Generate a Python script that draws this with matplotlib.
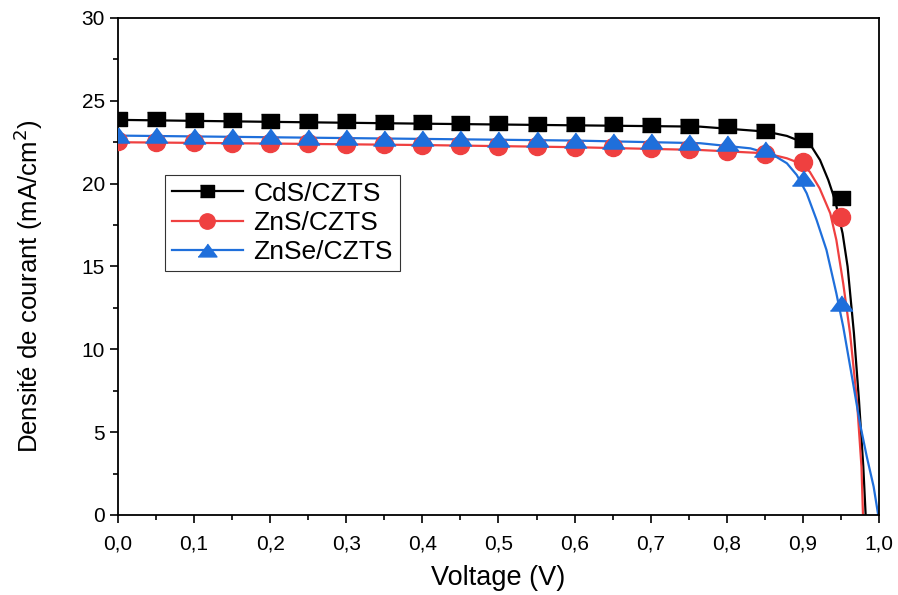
import numpy as np
import matplotlib.pyplot as plt
from matplotlib.lines import Line2D
from matplotlib.ticker import MultipleLocator, FuncFormatter

plt.rcParams['font.family'] = ['Liberation Sans', 'DejaVu Sans']

# points mesurés (marqueurs)
v_pts = [0.00, 0.05, 0.10, 0.15, 0.20, 0.25, 0.30, 0.35, 0.40, 0.45,
         0.50, 0.55, 0.60, 0.65, 0.70, 0.75, 0.80, 0.85, 0.90, 0.95]
j_cds = [23.90, 23.88, 23.86, 23.83, 23.81, 23.78, 23.76, 23.73, 23.70, 23.68,
         23.65, 23.62, 23.60, 23.57, 23.54, 23.50, 23.45, 23.20, 22.63, 19.15]
j_zns = [22.55, 22.53, 22.50, 22.48, 22.46, 22.43, 22.41, 22.38, 22.36, 22.33,
         22.30, 22.27, 22.24, 22.20, 22.16, 22.12, 22.00, 21.80, 21.28, 18.00]
j_znse = [22.95, 22.93, 22.90, 22.88, 22.86, 22.83, 22.81, 22.78, 22.76, 22.73,
          22.70, 22.67, 22.64, 22.60, 22.56, 22.50, 22.45, 22.08, 20.35, 12.78]

# courbes simulées
v_cds_fit = [0.0, 0.2, 0.4, 0.6, 0.765, 0.852, 0.879, 0.898, 0.9115, 0.9225,
             0.9334, 0.9422, 0.9522, 0.9588, 0.9671, 0.9737, 0.9794, 0.9825]
j_cds_fit = [23.85, 23.73, 23.62, 23.52, 23.44, 23.14, 22.88, 22.53, 22.23, 21.43,
             20.22, 19.01, 17.00, 14.99, 10.97, 6.94, 2.92, 0.0]
v_zns_fit = [0.0, 0.2, 0.4, 0.6, 0.765, 0.852, 0.879, 0.896, 0.909, 0.922,
             0.936, 0.944, 0.953, 0.962, 0.971, 0.977, 0.979]
j_zns_fit = [22.50, 22.42, 22.33, 22.20, 22.03, 21.83, 21.53, 21.23, 20.72, 19.72,
             18.21, 16.60, 13.98, 10.97, 6.94, 2.92, 0.0]
v_znse_fit = [0.0, 0.2, 0.4, 0.6, 0.765, 0.831, 0.861, 0.879, 0.892, 0.905, 0.918,
              0.931, 0.944, 0.953, 0.966, 0.975, 0.984, 0.993, 0.999]
j_znse_fit = [22.90, 22.80, 22.70, 22.60, 22.44, 22.13, 21.73, 21.23, 20.52, 19.42, 17.81,
              16.00, 13.38, 11.37, 7.95, 5.53, 3.52, 1.71, 0.0]

labels = ['CdS/CZTS', 'ZnS/CZTS', 'ZnSe/CZTS']
colors = ['#000000', '#EF4040', '#1F6FDB']

sq = [(-1, -0.78), (1, -0.78), (1, 0.78), (-1, 0.78)]
tri = [(-1, -0.68), (1, -0.68), (0, 0.68)]
markers = [sq, 'o', tri]
msizes = [12.5, 13, 16]

fig = plt.figure(figsize=(8.98, 5.95), dpi=100)
ax = fig.add_axes([0.1314, 0.1345, 0.8474, 0.8353])

fits = [(v_cds_fit, j_cds_fit), (v_zns_fit, j_zns_fit), (v_znse_fit, j_znse_fit)]
pts = [j_cds, j_zns, j_znse]
for (vf, jf), jp, c, m, ms in zip(fits, pts, colors, markers, msizes):
    ax.plot(vf, jf, color=c, lw=1.6, zorder=2)
    ax.plot(v_pts, jp, ls='none', marker=m, ms=ms, color=c, mec=c, zorder=3)

handles = [Line2D([], [], color=c, lw=1.6, marker=m, ms=ms * 0.85)
           for c, m, ms in zip(colors, markers, msizes)]
leg = ax.legend(handles, labels, loc='upper left', bbox_to_anchor=(0.062, 0.684),
                borderaxespad=0, fontsize=19, frameon=True, fancybox=False,
                edgecolor='black', handlelength=2.7, handletextpad=0.4,
                labelspacing=0.2, borderpad=0.25)
leg.get_frame().set_linewidth(0.8)

ax.set_xlim(0, 1.0)
ax.set_ylim(0, 30)
ax.xaxis.set_major_locator(MultipleLocator(0.1))
ax.xaxis.set_minor_locator(MultipleLocator(0.05))
ax.yaxis.set_major_locator(MultipleLocator(5))
ax.yaxis.set_minor_locator(MultipleLocator(2.5))
ax.xaxis.set_major_formatter(FuncFormatter(lambda x, p: f'{x:.1f}'.replace('.', ',')))
ax.tick_params(which='major', direction='out', length=6, width=1.2, labelsize=15)
ax.tick_params(axis='x', which='major', pad=8)
ax.tick_params(which='minor', direction='out', length=3.5, width=1.2)
for s in ax.spines.values():
    s.set_linewidth(1.3)

ax.set_xlabel('Voltage (V)', fontsize=19.5, labelpad=8)
ax.set_ylabel('Densité de courant (mA/cm$^2$)', fontsize=18.5, labelpad=10)
ax.yaxis.set_label_coords(-0.096, 0.46)

fig.savefig('out.png', dpi=100)
